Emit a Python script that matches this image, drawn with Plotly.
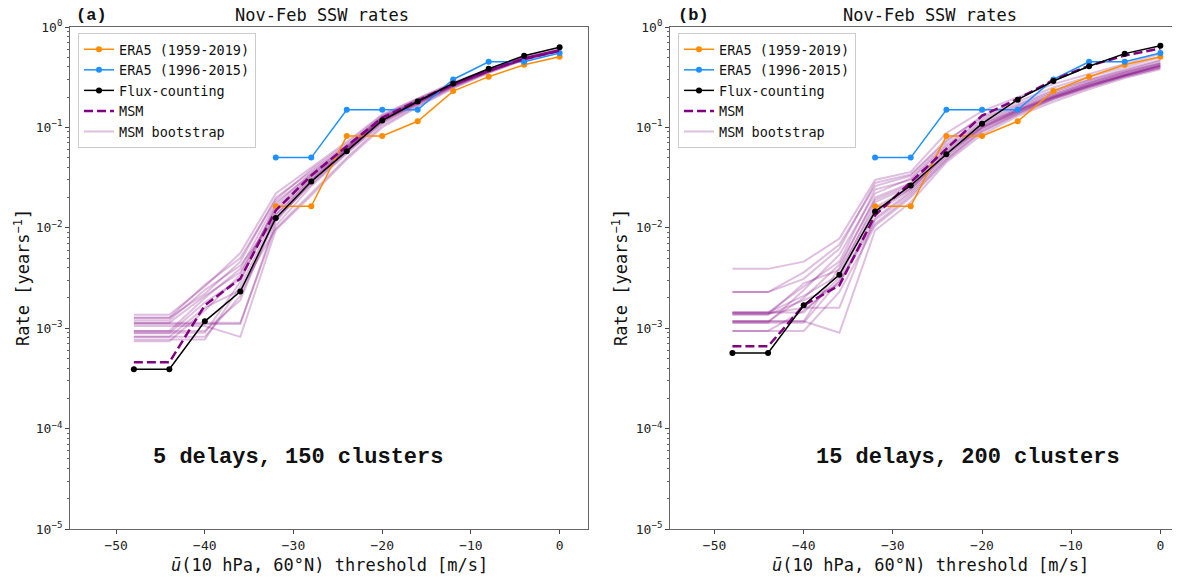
import plotly.graph_objects as go

# ---------------- data ----------------
thresholds = [-48, -44, -40, -36, -32, -28, -24, -20, -16, -12, -8, -4, 0]
era5_x = [-32, -28, -24, -20, -16, -12, -8, -4, 0]
era5_long = [0.0164, 0.0164, 0.082, 0.082, 0.115, 0.23, 0.32, 0.42, 0.505]
era5_short = [0.05, 0.05, 0.15, 0.15, 0.15, 0.30, 0.45, 0.45, 0.55]

flux_a = [3.9e-4, 3.9e-4, 1.17e-3, 2.32e-3, 0.0125, 0.0289, 0.058, 0.117, 0.181, 0.274, 0.384, 0.517, 0.63]
msm_a = [4.57e-4, 4.57e-4, 1.69e-3, 3.11e-3, 0.0149, 0.0332, 0.065, 0.125, 0.185, 0.27, 0.37, 0.48, 0.58]
flux_b = [5.66e-4, 5.66e-4, 1.69e-3, 3.41e-3, 0.0145, 0.0264, 0.054, 0.109, 0.189, 0.29, 0.406, 0.543, 0.65]
msm_b = [6.6e-4, 6.6e-4, 1.69e-3, 2.67e-3, 0.0133, 0.0285, 0.060, 0.131, 0.192, 0.297, 0.41, 0.52, 0.61]

boot_a = [
    [1.36e-3, 1.36e-3, 2.6e-3, 5.6e-3, 0.022, 0.040, 0.072, 0.135, 0.195, 0.28, 0.38, 0.50, 0.60],
    [1.27e-3, 1.27e-3, 2.2e-3, 4.6e-3, 0.020, 0.036, 0.066, 0.128, 0.188, 0.27, 0.37, 0.49, 0.59],
    [1.13e-3, 1.13e-3, 1.13e-3, 1.13e-3, 0.0105, 0.026, 0.055, 0.110, 0.170, 0.255, 0.36, 0.48, 0.58],
    [1.05e-3, 1.05e-3, 1.05e-3, 8.2e-4, 0.0095, 0.021, 0.048, 0.100, 0.160, 0.245, 0.35, 0.47, 0.57],
    [9.4e-4, 9.4e-4, 2.0e-3, 3.9e-3, 0.018, 0.034, 0.064, 0.125, 0.185, 0.27, 0.37, 0.49, 0.59],
    [8.9e-4, 8.9e-4, 1.8e-3, 3.1e-3, 0.0145, 0.031, 0.060, 0.120, 0.180, 0.265, 0.365, 0.485, 0.585],
    [8.2e-4, 8.2e-4, 8.2e-4, 2.1e-3, 0.012, 0.028, 0.058, 0.115, 0.175, 0.26, 0.36, 0.48, 0.58],
    [7.7e-4, 7.7e-4, 7.7e-4, 2.6e-3, 0.0135, 0.030, 0.061, 0.118, 0.178, 0.262, 0.362, 0.482, 0.582],
    [7.4e-4, 7.4e-4, 1.5e-3, 3.4e-3, 0.016, 0.033, 0.063, 0.122, 0.182, 0.268, 0.368, 0.488, 0.588],
    [1.20e-3, 1.20e-3, 2.4e-3, 4.2e-3, 0.0125, 0.027, 0.056, 0.112, 0.172, 0.258, 0.358, 0.478, 0.578],
    [1.10e-3, 1.10e-3, 1.10e-3, 1.10e-3, 0.0115, 0.029, 0.059, 0.117, 0.177, 0.263, 0.364, 0.483, 0.583],
    [9.0e-4, 9.0e-4, 9.0e-4, 2.9e-3, 0.017, 0.035, 0.065, 0.126, 0.186, 0.271, 0.372, 0.492, 0.592],
    [1.27e-3, 1.27e-3, 2.7e-3, 5.0e-3, 0.019, 0.038, 0.069, 0.131, 0.192, 0.276, 0.376, 0.495, 0.595],
    [8.2e-4, 8.2e-4, 1.6e-3, 2.4e-3, 0.0098, 0.022, 0.050, 0.105, 0.165, 0.25, 0.352, 0.472, 0.572],
    [1.13e-3, 1.13e-3, 2.1e-3, 3.6e-3, 0.015, 0.032, 0.062, 0.123, 0.183, 0.266, 0.366, 0.486, 0.586],
    [9.4e-4, 9.4e-4, 9.4e-4, 1.9e-3, 0.0135, 0.0295, 0.060, 0.119, 0.179, 0.264, 0.363, 0.484, 0.584],
]

boot_b = [
    [3.9e-3, 3.9e-3, 4.6e-3, 7.8e-3, 0.030, 0.036, 0.088, 0.145, 0.20, 0.27, 0.34, 0.43, 0.54],
    [2.29e-3, 2.29e-3, 3.1e-3, 6.2e-3, 0.028, 0.034, 0.075, 0.125, 0.17, 0.235, 0.30, 0.38, 0.47],
    [1.43e-3, 1.43e-3, 2.6e-3, 4.6e-3, 0.024, 0.030, 0.065, 0.115, 0.16, 0.22, 0.285, 0.36, 0.44],
    [1.43e-3, 1.43e-3, 2.1e-3, 3.4e-3, 0.018, 0.026, 0.058, 0.105, 0.15, 0.205, 0.27, 0.34, 0.42],
    [1.37e-3, 1.37e-3, 1.9e-3, 2.7e-3, 0.014, 0.024, 0.055, 0.100, 0.145, 0.20, 0.26, 0.33, 0.41],
    [1.17e-3, 1.17e-3, 1.17e-3, 4.0e-3, 0.020, 0.028, 0.060, 0.108, 0.152, 0.21, 0.275, 0.35, 0.43],
    [1.13e-3, 1.13e-3, 1.13e-3, 3.0e-3, 0.012, 0.022, 0.050, 0.095, 0.14, 0.195, 0.255, 0.325, 0.40],
    [9.4e-4, 9.4e-4, 9.4e-4, 2.3e-3, 0.0105, 0.020, 0.047, 0.090, 0.135, 0.19, 0.25, 0.32, 0.39],
    [1.4e-3, 1.4e-3, 1.6e-3, 1.6e-3, 0.0125, 0.023, 0.052, 0.098, 0.142, 0.198, 0.26, 0.33, 0.41],
    [1.17e-3, 1.17e-3, 1.17e-3, 9.0e-4, 0.0094, 0.018, 0.045, 0.085, 0.13, 0.18, 0.24, 0.31, 0.38],
    [1.13e-3, 1.13e-3, 2.4e-3, 5.4e-3, 0.022, 0.031, 0.068, 0.12, 0.165, 0.228, 0.295, 0.37, 0.46],
    [1.37e-3, 1.37e-3, 2.8e-3, 3.8e-3, 0.016, 0.025, 0.056, 0.102, 0.148, 0.203, 0.265, 0.335, 0.415],
    [2.29e-3, 2.29e-3, 3.6e-3, 6.8e-3, 0.026, 0.033, 0.072, 0.13, 0.18, 0.25, 0.32, 0.40, 0.50],
    [9.4e-4, 9.4e-4, 1.5e-3, 2.9e-3, 0.011, 0.021, 0.048, 0.092, 0.137, 0.192, 0.252, 0.322, 0.395],
    [1.17e-3, 1.17e-3, 2.0e-3, 4.3e-3, 0.019, 0.027, 0.062, 0.11, 0.155, 0.213, 0.278, 0.352, 0.435],
    [1.43e-3, 1.43e-3, 1.43e-3, 3.2e-3, 0.015, 0.0245, 0.054, 0.10, 0.146, 0.20, 0.262, 0.333, 0.412],
]

panel_labels = ["(a)", "(b)"]
panel_notes = ["5 delays, 150 clusters", "15 delays, 200 clusters"]
title_text = "Nov-Feb SSW rates"
ytick_vals = [1e-5, 1e-4, 1e-3, 1e-2, 1e-1, 1e0]
ytick_text = ["10<sup>\u22125</sup>", "10<sup>\u22124</sup>", "10<sup>\u22123</sup>",
              "10<sup>\u22122</sup>", "10<sup>\u22121</sup>", "10<sup>0</sup>"]
xtick_vals = [-50, -40, -30, -20, -10, 0]
xtick_text = ["\u221250", "\u221240", "\u221230", "\u221220", "\u221210", "0"]

# ---------------- style ----------------
W, H = 1180, 577
OFF = 8  # page body margin: the figure is drawn 8 px right/down in the window
MONO = "DejaVu Sans Mono"
BOLDMONO = "Liberation Mono"
ORANGE = "#ff8c00"
BLUE = "#1e90ff"
PURPLE = "#800080"
BOOT = "rgba(128,0,128,0.25)"

def px(x):
    return (x - OFF) / W

def py(y):
    return 1 - (y - OFF) / H

panels = [
    dict(xd=[px(70), px(588)], xr=[-55.2, 3.2], flux=flux_a, msm=msm_a, boot=boot_a,
         legend="legend", lx=px(78), title_x=px(322), lab_x=px(74), note_x=-46.1,
         ytitle_x=px(22), xtitle_x=px(329)),
    dict(xd=[px(670), px(1188)], xr=[-55.0, 3.1], flux=flux_b, msm=msm_b, boot=boot_b,
         legend="legend2", lx=px(678), title_x=px(930), lab_x=px(676), note_x=-38.8,
         ytitle_x=px(620), xtitle_x=px(930)),
]

fig = go.Figure()
annotations = []
layout = {}

for i, p in enumerate(panels):
    xa = "x" if i == 0 else "x2"
    ya = "y" if i == 0 else "y2"
    leg = p["legend"]
    for j, row in enumerate(p["boot"]):
        fig.add_trace(go.Scatter(
            x=thresholds, y=row, mode="lines", xaxis=xa, yaxis=ya,
            line=dict(color=BOOT, width=2), name="MSM bootstrap",
            showlegend=(j == 0), legend=leg, legendrank=5, hoverinfo="skip"))
    fig.add_trace(go.Scatter(
        x=era5_x, y=era5_long, mode="lines+markers", xaxis=xa, yaxis=ya,
        line=dict(color=ORANGE, width=1.5), marker=dict(color=ORANGE, size=6),
        name="ERA5 (1959-2019)", legend=leg, legendrank=1))
    fig.add_trace(go.Scatter(
        x=era5_x, y=era5_short, mode="lines+markers", xaxis=xa, yaxis=ya,
        line=dict(color=BLUE, width=1.5), marker=dict(color=BLUE, size=6),
        name="ERA5 (1996-2015)", legend=leg, legendrank=2))
    fig.add_trace(go.Scatter(
        x=thresholds, y=p["msm"], mode="lines", xaxis=xa, yaxis=ya,
        line=dict(color=PURPLE, width=2.5, dash="9px,4px"),
        name="MSM", legend=leg, legendrank=4))
    fig.add_trace(go.Scatter(
        x=thresholds, y=p["flux"], mode="lines+markers", xaxis=xa, yaxis=ya,
        line=dict(color="black", width=1.5), marker=dict(color="black", size=6),
        name="Flux-counting", legend=leg, legendrank=3))

    axis_common = dict(showline=True, mirror=True, linecolor="#666", linewidth=1,
                       showgrid=False, zeroline=False, ticks="outside", ticklen=4,
                       automargin=False,
                       tickcolor="#444", tickfont=dict(family=MONO, size=13, color="#222"))
    xkey = "xaxis" if i == 0 else "xaxis2"
    ykey = "yaxis" if i == 0 else "yaxis2"
    layout[xkey] = dict(domain=p["xd"], range=p["xr"], anchor=ya,
                        tickvals=xtick_vals, ticktext=xtick_text, **axis_common)
    layout[ykey] = dict(domain=[py(529), py(27)], type="log", range=[-5, 0], anchor=xa,
                        tickvals=ytick_vals, ticktext=ytick_text,
                        minor=dict(ticks="outside", ticklen=2, dtick="D1", tickcolor="#666"),
                        **axis_common)
    layout[leg] = dict(x=p["lx"], y=py(33), xanchor="left", yanchor="top",
                       xref="paper", yref="paper",
                       bgcolor="rgba(255,255,255,0.8)", bordercolor="#cccccc", borderwidth=1,
                       font=dict(family=MONO, size=13.5, color="#111"),
                       itemwidth=30, tracegroupgap=0)

    annotations += [
        dict(text=title_text, x=p["title_x"], y=py(15), xref="paper", yref="paper",
             showarrow=False, xanchor="center", yanchor="middle",
             font=dict(family=MONO, size=17, color="#111")),
        dict(text="<b>" + panel_labels[i] + "</b>", x=p["lab_x"], y=py(15), xref="paper", yref="paper",
             showarrow=False, xanchor="left", yanchor="middle",
             font=dict(family=BOLDMONO, size=17, color="#111")),
        dict(text="<b>" + panel_notes[i] + "</b>", x=p["note_x"], y=-4.29, xref=xa, yref=ya,
             showarrow=False, xanchor="left", yanchor="middle",
             font=dict(family=BOLDMONO, size=22, color="#111")),
        dict(text="Rate [years<sup>\u22121</sup>]", x=p["ytitle_x"], y=py(278), xref="paper", yref="paper",
             showarrow=False, textangle=-90, xanchor="center", yanchor="middle",
             font=dict(family=MONO, size=17, color="#111")),
        dict(text="<i>\u016b</i>(10 hPa, 60\u00b0N) threshold [m/s]", x=p["xtitle_x"], y=py(565),
             xref="paper", yref="paper", showarrow=False, xanchor="center", yanchor="middle",
             font=dict(family=MONO, size=17, color="#111")),
    ]

fig.update_layout(
    width=W, height=H, margin=dict(l=0, r=0, t=0, b=0, autoexpand=False),
    paper_bgcolor="white", plot_bgcolor="white",
    annotations=annotations, showlegend=True, **layout)

fig.write_html("out.html")
